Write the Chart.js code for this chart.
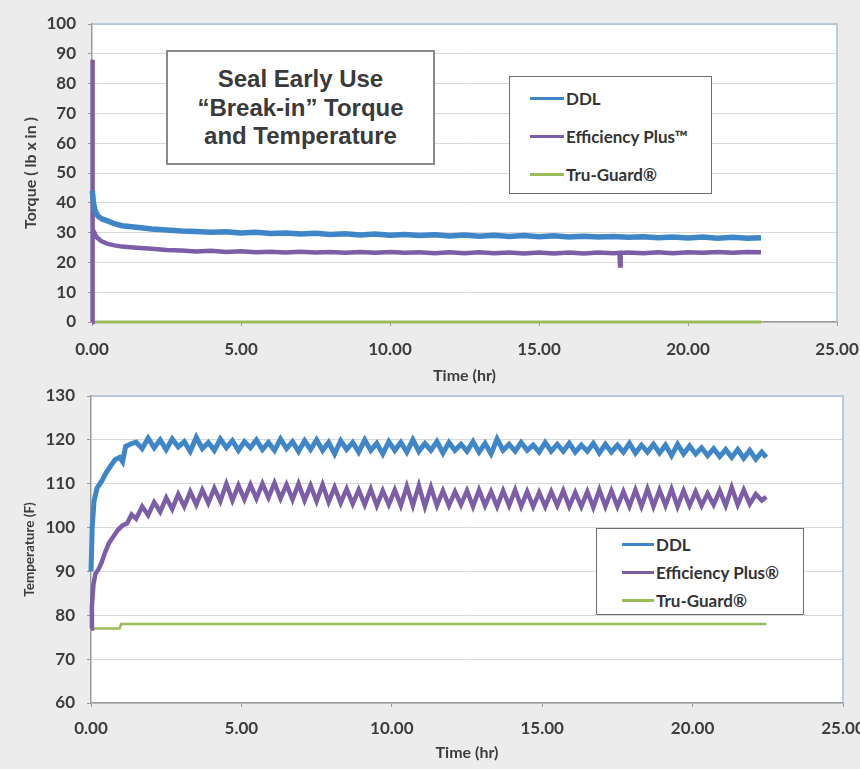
<!DOCTYPE html>
<html>
<head>
<meta charset="utf-8">
<script src="https://cdn.jsdelivr.net/npm/chart.js@4.4.1/dist/chart.umd.min.js"></script>
<style>
  html, body { margin: 0; padding: 0; background: #ececec; }
  body { width: 860px; height: 769px; position: relative; overflow: hidden; font-family: 'Lato', 'Liberation Sans', sans-serif; }
  canvas { position: absolute; left: 0; }
  #c1 { top: 0; }
  #c2 { top: 380px; }
  .titlebox { position: absolute; left: 166px; top: 50px; width: 269px; height: 115px; border: 2px solid #8a8a8a; background: #fff;
    font-family: 'Liberation Sans', Arial, sans-serif; font-weight: bold; font-size: 24px; line-height: 28.5px; color: #3a3a3a;
    text-align: center; box-sizing: border-box; padding-top: 13px; }
  .legend { position: absolute; background: #fff; border: 1px solid #6e6e6e; box-sizing: border-box; }
  .legend .row { display: flex; align-items: center; font-family: 'Lato', sans-serif; font-weight: bold; color: #333; white-space: nowrap; }
  .legend .sw { display: inline-block; height: 3px; margin-right: 2px; }
  #lg1 { left: 509px; top: 76px; width: 203px; height: 118px; padding: 2px 0 0 20px; }
  #lg1 .row { height: 38px; font-size: 17px; }
  #lg1 .sw { width: 34px; }
  #lg2 { left: 596px; top: 528px; width: 208px; height: 87px; padding: 1px 0 0 25px; }
  #lg2 .row { height: 28px; font-size: 17px; }
  #lg2 .sw { width: 32px; }
</style>
</head>
<body>
<canvas id="c1" width="860" height="385"></canvas>
<canvas id="c2" width="860" height="389"></canvas>
<div class="titlebox">Seal Early Use<br>“Break-in” Torque<br>and Temperature</div>
<div class="legend" id="lg1"></div>
<div class="legend" id="lg2"></div>
<script>
// ---------------- DATA ----------------
const seriesNames1 = ['DDL', 'Efficiency Plus™', 'Tru-Guard®'];
const seriesNames2 = ['DDL', 'Efficiency Plus®', 'Tru-Guard®'];
const xTicks = [0, 5, 10, 15, 20, 25];

// Torque (lb x in) vs Time (hr)
const torqueDdlTime = [0.01, 0.05, 0.1, 0.2, 0.35, 0.5, 0.75, 1.0, 1.5, 2.0, 2.5, 3.0, 3.5, 4.0, 4.5, 5.0, 5.5, 6.0, 6.5, 7.0, 7.5, 8.0, 8.5, 9.0, 9.5, 10.0, 10.5, 11.0, 11.5, 12.0, 12.5, 13.0, 13.5, 14.0, 14.5, 15.0, 15.5, 16.0, 16.5, 17.0, 17.5, 18.0, 18.5, 19.0, 19.5, 20.0, 20.5, 21.0, 21.5, 22.0, 22.45];
const torqueDdlVal  = [44, 40, 37.5, 35.5, 34.5, 34, 33, 32.3, 31.8, 31.2, 30.9, 30.5, 30.4, 30.1, 30.3, 29.9, 30.1, 29.7, 29.9, 29.5, 29.8, 29.4, 29.6, 29.2, 29.5, 29.1, 29.4, 29.0, 29.3, 28.9, 29.2, 28.8, 29.1, 28.7, 29.0, 28.6, 28.9, 28.5, 28.8, 28.5, 28.7, 28.4, 28.6, 28.3, 28.5, 28.2, 28.5, 28.1, 28.4, 28.1, 28.3];

const torqueEffTime = [0, 0.01, 0.03, 0.08, 0.15, 0.3, 0.5, 0.75, 1.0, 1.5, 2.0, 2.5, 3.0, 3.5, 4.0, 4.5, 5.0, 5.5, 6.0, 6.5, 7.0, 7.5, 8.0, 8.5, 9.0, 9.5, 10.0, 10.5, 11.0, 11.5, 12.0, 12.5, 13.0, 13.5, 14.0, 14.5, 15.0, 15.5, 16.0, 16.5, 17.0, 17.5, 17.7, 17.72, 17.74, 18.0, 18.5, 19.0, 19.5, 20.0, 20.5, 21.0, 21.5, 22.0, 22.45];
const torqueEffVal  = [0, 88, 31, 30, 28.5, 27.2, 26.3, 25.7, 25.3, 24.9, 24.6, 24.2, 24.0, 23.7, 23.9, 23.5, 23.7, 23.4, 23.6, 23.3, 23.6, 23.3, 23.5, 23.2, 23.5, 23.2, 23.5, 23.2, 23.4, 23.1, 23.4, 23.1, 23.4, 23.1, 23.3, 23.0, 23.3, 23.0, 23.3, 23.0, 23.3, 23.1, 23.2, 19.0, 23.2, 23.3, 23.1, 23.4, 23.1, 23.4, 23.2, 23.5, 23.2, 23.5, 23.4];

const torqueTgTime = [0, 22.45];
const torqueTgVal  = [0, 0];

// Temperature (F) vs Time (hr)
const tempDdlTime = [0, 0.04, 0.1, 0.2, 0.35, 0.5, 0.65, 0.8, 0.95, 1.05, 1.15, 1.3,
  1.5, 1.7, 1.9, 2.1, 2.3, 2.5, 2.7, 2.9, 3.1, 3.3, 3.5, 3.7, 3.9, 4.1, 4.3, 4.5, 4.7, 4.9, 5.1, 5.3, 5.5, 5.7, 5.9, 6.1, 6.3, 6.5, 6.7, 6.9, 7.1, 7.3, 7.5, 7.7, 7.9, 8.1, 8.3, 8.5, 8.7, 8.9, 9.1, 9.3, 9.5, 9.7, 9.9, 10.1, 10.3, 10.5, 10.7, 10.9, 11.1, 11.3, 11.5, 11.7, 11.9, 12.1, 12.3, 12.5, 12.7, 12.9, 13.1, 13.3, 13.5, 13.7, 13.9, 14.1, 14.3, 14.5, 14.7, 14.9, 15.1, 15.3, 15.5, 15.7, 15.9, 16.1, 16.3, 16.5, 16.7, 16.9, 17.1, 17.3, 17.5, 17.7, 17.9, 18.1, 18.3, 18.5, 18.7, 18.9, 19.1, 19.3, 19.5, 19.7, 19.9, 20.1, 20.3, 20.5, 20.7, 20.9, 21.1, 21.3, 21.5, 21.7, 21.9, 22.1, 22.3, 22.45];
const tempDdlVal = [90, 100, 106, 109, 110.5, 112.5, 114, 115.5, 116, 115, 118.5, 119,
  119.5, 118.0, 120.4, 118.2, 120.0, 117.8, 120.2, 118.4, 119.6, 117.4, 120.6, 118.0, 119.4, 117.6, 120.2, 118.2, 119.8, 117.6, 119.6, 118.2, 120.0, 117.8, 119.4, 117.6, 120.2, 118.0, 119.6, 117.4, 119.8, 117.8, 120.0, 117.6, 119.4, 116.8, 119.8, 117.8, 119.4, 117.2, 120.0, 117.6, 119.2, 116.8, 119.6, 117.6, 119.4, 117.2, 120.0, 117.4, 119.2, 117.6, 119.6, 117.0, 119.4, 117.6, 119.0, 117.4, 119.6, 117.2, 119.2, 116.8, 120.2, 117.6, 119.0, 117.4, 119.4, 117.6, 118.8, 117.2, 119.4, 117.4, 119.0, 117.4, 119.2, 117.2, 118.8, 117.4, 119.2, 117.0, 119.0, 117.2, 118.8, 117.2, 119.2, 117.0, 118.8, 117.2, 119.0, 117.0, 118.8, 116.4, 119.0, 116.8, 118.6, 116.8, 118.2, 116.4, 118.0, 116.2, 117.8, 116.0, 117.8, 115.8, 117.6, 115.6, 117.2, 116.0];

const tempEffTime = [0, 0.03, 0.08, 0.15, 0.25, 0.35, 0.45, 0.6, 0.75, 0.9, 1.05, 1.2, 1.35,
  1.5, 1.7, 1.9, 2.1, 2.3, 2.5, 2.7, 2.9, 3.1, 3.3, 3.5, 3.7, 3.9, 4.1, 4.3, 4.5, 4.7, 4.9, 5.1, 5.3, 5.5, 5.7, 5.9, 6.1, 6.3, 6.5, 6.7, 6.9, 7.1, 7.3, 7.5, 7.7, 7.9, 8.1, 8.3, 8.5, 8.7, 8.9, 9.1, 9.3, 9.5, 9.7, 9.9, 10.1, 10.3, 10.5, 10.7, 10.9, 11.1, 11.3, 11.5, 11.7, 11.9, 12.1, 12.3, 12.5, 12.7, 12.9, 13.1, 13.3, 13.5, 13.7, 13.9, 14.1, 14.3, 14.5, 14.7, 14.9, 15.1, 15.3, 15.5, 15.7, 15.9, 16.1, 16.3, 16.5, 16.7, 16.9, 17.1, 17.3, 17.5, 17.7, 17.9, 18.1, 18.3, 18.5, 18.7, 18.9, 19.1, 19.3, 19.5, 19.7, 19.9, 20.1, 20.3, 20.5, 20.7, 20.9, 21.1, 21.3, 21.5, 21.7, 21.9, 22.1, 22.3, 22.45];
const tempEffVal = [77, 82, 87, 89.5, 90.5, 92, 94, 96.5, 98, 99.5, 100.5, 101, 103,
  102.0, 104.8, 102.8, 105.8, 103.6, 106.8, 104.2, 107.6, 104.8, 108.2, 105.2, 108.6, 105.6, 109.0, 106.0, 110.0, 106.2, 109.6, 106.4, 109.8, 106.6, 110.0, 106.8, 110.2, 106.6, 109.8, 106.4, 110.0, 106.2, 109.6, 106.0, 109.8, 105.8, 109.2, 105.6, 108.8, 105.4, 108.6, 105.2, 108.8, 105.0, 108.4, 105.2, 108.6, 105.0, 109.4, 105.0, 109.6, 104.8, 109.2, 105.0, 108.4, 105.0, 108.2, 105.2, 108.4, 104.8, 108.6, 105.0, 108.2, 104.8, 108.4, 105.0, 108.6, 104.8, 108.2, 104.8, 108.0, 104.8, 108.2, 105.0, 108.4, 104.8, 108.0, 104.8, 108.2, 104.6, 108.6, 104.8, 108.4, 104.8, 108.2, 104.8, 108.6, 104.8, 108.8, 104.8, 108.6, 105.0, 108.8, 104.8, 108.4, 105.0, 108.2, 105.0, 107.8, 105.2, 108.4, 105.0, 109.2, 105.2, 108.6, 105.4, 107.6, 106.2, 107.0];

const tempTgTime = [0, 0.95, 1.0, 22.45];
const tempTgVal  = [77, 77, 78, 78];

// ---------------- STYLE ----------------
const colors = ['#3f86c8', '#7b5ea7', '#9bbb59'];
Chart.defaults.font.family = "'Lato', 'Liberation Sans', sans-serif";
Chart.defaults.color = '#3d3d3d';

function pts(t, v) { return t.map((x, i) => ({ x: x, y: v[i] })); }

const plotFrame = {
  id: 'plotFrame',
  beforeDraw(chart) {
    const a = chart.chartArea, c = chart.ctx;
    c.save(); c.fillStyle = '#ffffff'; c.fillRect(a.left, a.top, a.right - a.left, a.bottom - a.top); c.restore();
  },
  beforeDatasetsDraw(chart) {
    const a = chart.chartArea, c = chart.ctx;
    c.save(); c.strokeStyle = '#a8bfd6'; c.lineWidth = 1.5;
    c.beginPath(); c.moveTo(a.left, a.top); c.lineTo(a.right, a.top); c.lineTo(a.right, a.bottom); c.stroke(); c.restore();
  }
};

function makeChart(id, names, sets, widths, yMin, yMax, yTitle, yTitleSize, pad, yW, xH, tickPad, titleBottomPad) {
  return new Chart(document.getElementById(id), {
    type: 'line',
    data: {
      datasets: sets.map((s, i) => ({
        label: names[i], data: pts(s[0], s[1]), borderColor: colors[i], backgroundColor: colors[i],
        borderWidth: widths[i], pointRadius: 0, tension: 0, fill: false,
        clip: { left: 3, top: 0, right: 0, bottom: 4 }
      }))
    },
    options: {
      responsive: false, animation: false, devicePixelRatio: 1,
      layout: { padding: pad },
      plugins: { legend: { display: false }, tooltip: { enabled: false } },
      scales: {
        x: {
          type: 'linear', min: 0, max: 25, afterBuildTicks: s => { s.ticks = xTicks.map(v => ({ value: v })); },
          afterFit: s => { s.height = xH; s.paddingLeft = 0; s.paddingRight = 0; },
          grid: { drawOnChartArea: false, drawTicks: true, tickLength: 4, color: '#9a9a9a' },
          border: { color: '#9a9a9a', width: 1.5 },
          ticks: { padding: tickPad, font: { size: 17, weight: 'bold' }, color: '#3d3d3d', maxRotation: 0, callback: v => Number(v).toFixed(2) },
          title: { display: true, text: 'Time (hr)', font: { size: 16, weight: 'bold' }, color: '#3d3d3d', padding: { top: 0, bottom: titleBottomPad } }
        },
        y: {
          min: yMin, max: yMax,
          afterFit: s => { s.width = yW; s.paddingTop = 0; s.paddingBottom = 0; },
          grid: { color: '#d9d9d9', tickLength: 4, tickColor: '#9a9a9a' },
          border: { color: '#9a9a9a', width: 1.5 },
          ticks: { stepSize: 10, padding: 12, font: { size: 17, weight: 'bold' }, color: '#3d3d3d' },
          title: { display: true, text: yTitle, font: { size: yTitleSize, weight: 'bold' }, color: '#3d3d3d', padding: { top: 0, bottom: 4 } }
        }
      }
    },
    plugins: [plotFrame]
  });
}

const ch1 = makeChart('c1', seriesNames1,
  [[torqueDdlTime, torqueDdlVal], [torqueEffTime, torqueEffVal], [torqueTgTime, torqueTgVal]],
  [5.5, 4.5, 3], 0, 100, 'Torque ( lb x in )', 16,
  { left: 21, top: 24, right: 23, bottom: 0 }, 71, 63, 13, 0);

const ch2 = makeChart('c2', seriesNames2,
  [[tempDdlTime, tempDdlVal], [tempEffTime, tempEffVal], [tempTgTime, tempTgVal]],
  [5, 4.5, 2.5], 60, 130, 'Temperature (F)', 13.5,
  { left: 22, top: 16, right: 17, bottom: 0 }, 69, 66, 11, 7);

function buildLegend(chart, el) {
  chart.data.datasets.forEach(ds => {
    const row = document.createElement('div'); row.className = 'row';
    const sw = document.createElement('span'); sw.className = 'sw'; sw.style.background = ds.borderColor;
    const tx = document.createElement('span'); tx.textContent = ds.label;
    row.appendChild(sw); row.appendChild(tx); el.appendChild(row);
  });
}
buildLegend(ch1, document.getElementById('lg1'));
buildLegend(ch2, document.getElementById('lg2'));
</script>
</body>
</html>
